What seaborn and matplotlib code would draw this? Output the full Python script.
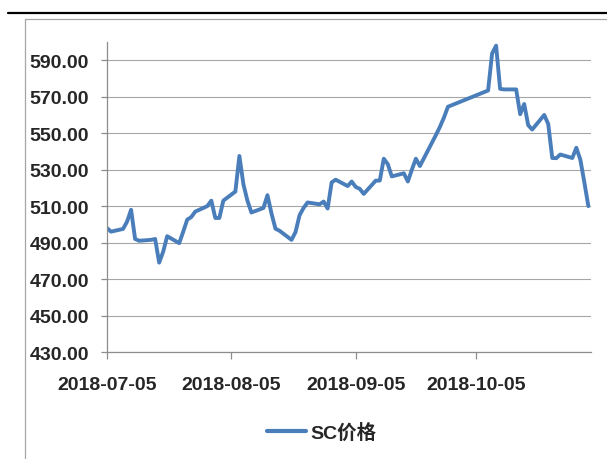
import pandas as pd
import matplotlib
matplotlib.use("Agg")
import matplotlib.pyplot as plt
import matplotlib.dates as mdates
from matplotlib import font_manager
from matplotlib.lines import Line2D
import seaborn as sns

# ==================================================
# Datos
# ==================================================
dates = [
    "2018-07-05", "2018-07-06", "2018-07-09", "2018-07-10", "2018-07-11", "2018-07-12", "2018-07-13",
    "2018-07-16", "2018-07-17", "2018-07-18", "2018-07-19", "2018-07-20",
    "2018-07-23", "2018-07-24", "2018-07-25", "2018-07-26", "2018-07-27",
    "2018-07-30", "2018-07-31", "2018-08-01", "2018-08-02", "2018-08-03",
    "2018-08-06", "2018-08-07", "2018-08-08", "2018-08-09", "2018-08-10",
    "2018-08-13", "2018-08-14", "2018-08-15", "2018-08-16", "2018-08-17",
    "2018-08-20", "2018-08-21", "2018-08-22", "2018-08-23", "2018-08-24",
    "2018-08-27", "2018-08-28", "2018-08-29", "2018-08-30", "2018-08-31",
    "2018-09-03", "2018-09-04", "2018-09-05", "2018-09-06", "2018-09-07",
    "2018-09-10", "2018-09-11", "2018-09-12", "2018-09-13", "2018-09-14",
    "2018-09-17", "2018-09-18", "2018-09-19", "2018-09-20", "2018-09-21",
    "2018-09-25", "2018-09-26", "2018-09-27", "2018-09-28",
    "2018-10-08", "2018-10-09", "2018-10-10", "2018-10-11", "2018-10-12",
    "2018-10-15", "2018-10-16", "2018-10-17", "2018-10-18", "2018-10-19",
    "2018-10-22", "2018-10-23", "2018-10-24", "2018-10-25", "2018-10-26",
    "2018-10-29", "2018-10-30", "2018-10-31", "2018-11-01", "2018-11-02",
]
sc_price = [
    498.0, 496.0, 497.5, 501.5, 508.0, 492.0, 491.0,
    491.5, 492.0, 479.0, 485.0, 493.5,
    489.7, 496.0, 502.6, 504.0, 507.0,
    510.0, 513.0, 503.5, 503.5, 513.0,
    518.0, 537.5, 522.0, 513.0, 506.5,
    509.0, 516.0, 506.0, 497.6, 496.5,
    491.5, 495.8, 505.0, 509.0, 512.0,
    511.0, 512.5, 508.7, 523.0, 524.5,
    521.0, 523.5, 520.5, 519.5, 516.7,
    524.0, 524.0, 536.0, 533.0, 526.3,
    528.0, 523.5, 530.0, 536.0, 532.0,
    549.0, 553.5, 558.6, 564.5,
    573.4, 593.7, 598.0, 574.3, 574.0,
    574.0, 560.4, 566.0, 554.4, 552.0,
    560.0, 555.0, 536.4, 536.3, 538.3,
    536.4, 542.0, 535.5, 523.0, 510.0,
]
x_ticks = ["2018-07-05", "2018-08-05", "2018-09-05", "2018-10-05"]
y_ticks = [430, 450, 470, 490, 510, 530, 550, 570, 590]
serie = "SC价格"

df = pd.DataFrame({"fecha": pd.to_datetime(dates), "precio": sc_price})

# ==================================================
# Fuentes
# ==================================================
sns.set_style("white")
disponibles = {f.name for f in font_manager.fontManager.ttflist}
base = "Liberation Sans Narrow" if "Liberation Sans Narrow" in disponibles else "Liberation Sans"
plt.rcParams["font.family"] = [base, "Noto Sans CJK SC", "DejaVu Sans"]
plt.rcParams["font.weight"] = "bold"

# ==================================================
# Gráfico
# ==================================================
fig = plt.figure(figsize=(6.07, 4.60), dpi=100)
ax = fig.add_axes([0.1763, 0.2326, 0.7974, 0.6739])

sns.lineplot(data=df, x="fecha", y="precio", ax=ax, color="#4a7ebb",
             linewidth=2.8, label=serie, legend=False)

ax.set_ylim(430, 600)
ax.set_yticks(y_ticks)
ax.set_yticklabels([f"{v:.2f}" for v in y_ticks])
ax.set_xlim(pd.Timestamp("2018-07-05"), pd.Timestamp("2018-11-02") + pd.Timedelta(hours=16))
ax.set_xticks(pd.to_datetime(x_ticks))
ax.xaxis.set_major_formatter(mdates.DateFormatter("%Y-%m-%d"))

ax.grid(axis="y", color="#a6a6a6", linewidth=0.8)
ax.grid(axis="x", visible=False)
ax.set_axisbelow(True)
for lado in ["top", "right"]:
    ax.spines[lado].set_visible(False)
for lado in ["left", "bottom"]:
    ax.spines[lado].set_color("#8c8c8c")
    ax.spines[lado].set_linewidth(0.9)

ax.tick_params(axis="y", direction="out", length=4, width=0.9, color="#8c8c8c",
               pad=9, labelsize=14, left=True)
ax.tick_params(axis="x", direction="out", length=5, width=0.9, color="#8c8c8c",
               pad=12, labelsize=14, bottom=True)
for t in ax.get_xticklabels() + ax.get_yticklabels():
    t.set_fontweight("bold")
ax.set_xlabel("")
ax.set_ylabel("")

# Leyenda
handle = Line2D([], [], color="#4a7ebb", linewidth=3)
fig.legend([handle], [serie], loc="center", bbox_to_anchor=(0.53, 0.058),
           frameon=False, handlelength=2.0, handletextpad=0.2,
           prop={"size": 14, "weight": "bold"})

# Marco de la imagen
fig.add_artist(Line2D([8 / 607, 1.0], [1 - 14 / 460, 1 - 14 / 460],
                      transform=fig.transFigure, color="black", linewidth=1.6))
fig.add_artist(Line2D([25 / 607, 25 / 607, 1.0], [0.0, 1 - 20 / 460, 1 - 20 / 460],
                      transform=fig.transFigure, color="#a6a6a6", linewidth=0.9))

fig.savefig("out.png", dpi=100)
